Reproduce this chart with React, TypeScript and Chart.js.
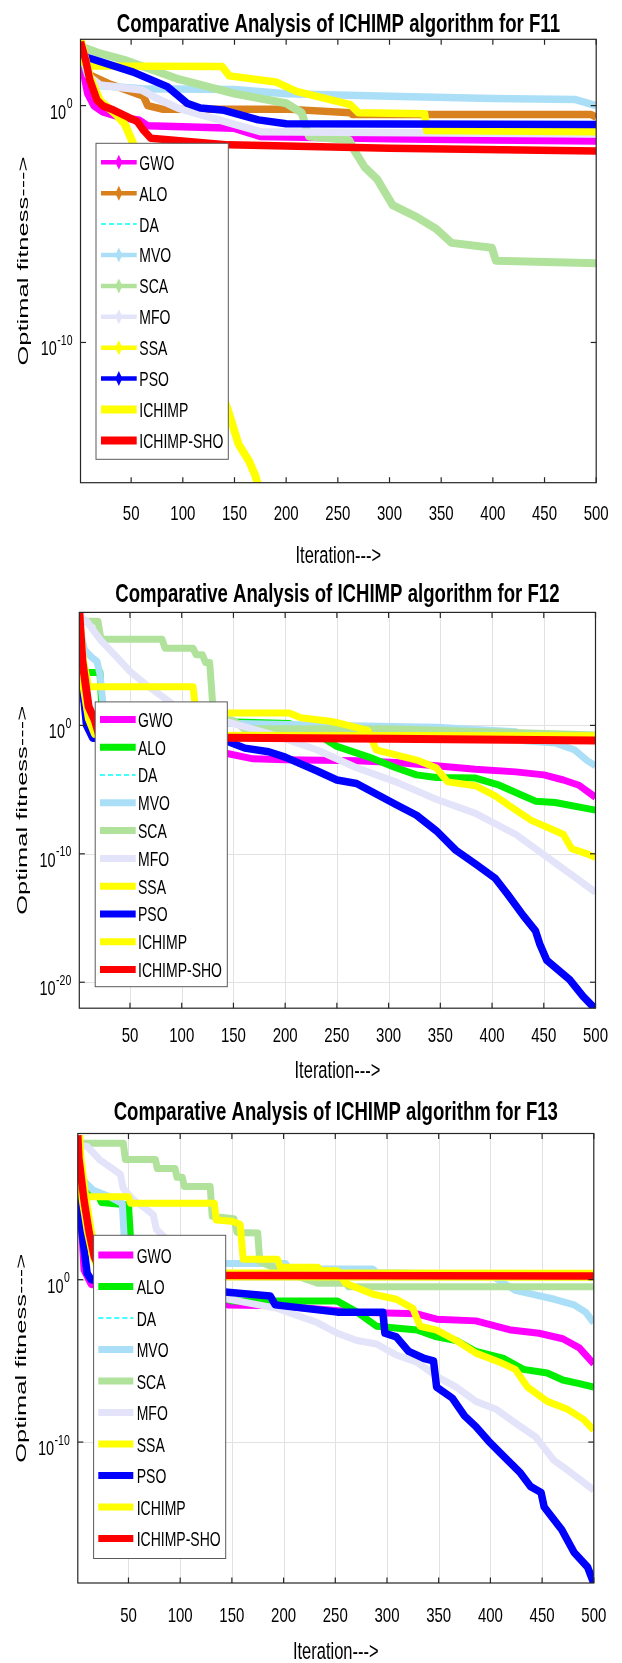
import { useEffect, useRef } from "react";
import { Chart, registerables } from "chart.js";

Chart.register(...registerables);

type Pt = [number, number];

// ---------- shared labels ----------
const ALGORITHMS = ["GWO", "ALO", "DA", "MVO", "SCA", "MFO", "SSA", "PSO", "ICHIMP", "ICHIMP-SHO"];
const ITERATION_TICKS = [50, 100, 150, 200, 250, 300, 350, 400, 450, 500];
const F11_Y_TICKS = [1, 1e-10];
const F12_Y_TICKS = [1, 1e-10, 1e-20];
const F13_Y_TICKS = [1, 1e-10];

// ---------- F11 convergence curves: [iteration, best fitness] ----------
const F11_GWO: Pt[] = [[1, 2.0e2], [4, 2.5e1], [8, 3.2], [14, 1.0], [22, 5.6e-1], [40, 3.2e-1], [58, 2.4e-1], [66, 1.4e-1], [150, 1.1e-1], [175, 5.0e-2], [300, 4.0e-2], [400, 3.5e-2], [500, 3.2e-2]];
const F11_ALO: Pt[] = [[1, 2.0e2], [10, 2.0e1], [30, 7.9], [62, 2.5], [66, 1.0], [80, 7.1e-1], [200, 7.1e-1], [262, 5.0e-1], [264, 4.2e-1], [495, 4.2e-1], [500, 3.2e-1]];
const F11_DA: Pt[] = [];
const F11_MVO: Pt[] = [[1, 2.0e2], [8, 2.0e1], [18, 7.1], [60, 5.2], [150, 4.8], [200, 3.2], [300, 2.5], [400, 2.0], [480, 1.8], [500, 1.0]];
const F11_SCA: Pt[] = [[1, 3.2e2], [20, 1.6e2], [46, 7.9e1], [96, 1.3e1], [150, 3.2], [200, 1.26], [215, 5.0e-1], [222, 5.0e-2], [261, 3.5e-2], [266, 1.26e-2], [276, 2.5e-3], [288, 7.9e-4], [303, 6.3e-5], [326, 2.0e-5], [345, 6.3e-6], [360, 1.6e-6], [399, 1.0e-6], [403, 2.8e-7], [500, 2.2e-7]];
const F11_MFO: Pt[] = [[1, 2.0e2], [10, 1.6e1], [20, 7.4], [60, 4.6], [75, 2.0], [96, 7.6e-1], [150, 1.6e-1], [175, 7.9e-2], [500, 6.3e-2]];
const F11_SSA: Pt[] = [[1, 8.3e1], [10, 4.7e1], [138, 4.5e1], [145, 1.8e1], [190, 1.0e1], [210, 4.0], [262, 1.1], [270, 5.0e-1], [334, 4.5e-1], [336, 8.9e-2], [500, 7.9e-2]];
const F11_PSO: Pt[] = [[1, 2.0e2], [7, 1.1e2], [52, 2.6e1], [85, 6.3], [104, 1.26], [117, 7.9e-1], [140, 6.3e-1], [173, 2.5e-1], [200, 1.7e-1], [500, 1.6e-1]];
const F11_ICHIMP: Pt[] = [[1, 6.3e2], [10, 1.6e1], [20, 1.6], [36, 4.0e-1], [44, 1.6e-1], [52, 2.5e-2], [144, 1.26e-13], [154, 5.0e-15], [164, 1.0e-15], [170, 2.5e-16], [176, 3.2e-17]];
const F11_SHO: Pt[] = [[1, 5.0e2], [6, 8.3e1], [10, 1.2e1], [17, 1.7], [23, 9.5e-1], [33, 6.5e-1], [46, 3.4e-1], [56, 2.1e-1], [62, 9.1e-2], [69, 4.2e-2], [144, 2.2e-2], [300, 1.6e-2], [500, 1.2e-2]];

// ---------- F12 ----------
const F12_GWO: Pt[] = [[1, 1.0e8], [5, 1.0e2], [10, 6.3], [16, 3.2e-1], [144, 6.5e-3], [169, 2.5e-3], [200, 2.1e-3], [269, 1.8e-3], [307, 1.3e-3], [346, 7.1e-4], [384, 3.8e-4], [423, 2.4e-4], [450, 1.4e-4], [469, 5.6e-5], [484, 2.2e-5], [500, 2.5e-6]];
const F12_ALO: Pt[] = [[1, 1.0e8], [2, 1.0e6], [3, 1.3e4], [21, 1.3e4], [23, 1.0e1], [144, 1.9], [204, 1.4], [231, 2.1e-1], [250, 2.3e-2], [281, 3.4e-3], [307, 5.0e-4], [327, 1.4e-4], [346, 8.9e-5], [384, 7.9e-5], [407, 2.2e-5], [430, 3.3e-6], [442, 1.26e-6], [461, 1.0e-6], [500, 2.5e-7]];
const F12_DA: Pt[] = [];
const F12_MVO: Pt[] = [[1, 1.0e8], [3, 1.0e7], [6, 7.9e5], [13, 2.0e5], [18, 1.0e5], [21, 1.0e4], [24, 4.0e1], [144, 1.5], [250, 1.0], [346, 7.1e-1], [423, 3.2e-1], [431, 6.3e-2], [461, 4.3e-2], [480, 1.2e-2], [492, 1.8e-3], [500, 7.1e-4]];
const F12_SCA: Pt[] = [[1, 1.3e8], [19, 1.3e8], [22, 5.0e6], [81, 5.0e6], [84, 1.0e6], [111, 1.0e6], [114, 3.2e5], [120, 3.2e5], [123, 7.9e4], [127, 7.9e4], [130, 4.0e1], [144, 3.5], [152, 2.0], [160, 5.4e-1], [300, 5.4e-1], [500, 1.8e-1]];
const F12_MFO: Pt[] = [[1, 3.2e8], [8, 1.3e8], [22, 4.0e6], [35, 3.2e5], [50, 1.6e4], [65, 1.6e3], [82, 1.6e2], [100, 1.3e1], [144, 1.9], [192, 1.5e-1], [231, 1.2e-2], [269, 5.0e-4], [307, 4.0e-5], [346, 1.8e-6], [384, 1.4e-7], [423, 3.2e-9], [461, 2.0e-11], [484, 8.9e-13], [500, 1.0e-13]];
const F12_SSA: Pt[] = [[1, 6.3e8], [5, 1.0e5], [10, 1.0e3], [111, 1.0e3], [113, 3.2e1], [144, 9.1], [204, 9.1], [215, 4.0], [245, 2.0], [261, 1.0], [280, 4.0e-1], [288, 1.26e-2], [307, 5.0e-3], [327, 2.0e-3], [346, 5.0e-4], [357, 4.0e-5], [384, 2.0e-5], [403, 3.2e-6], [423, 2.5e-7], [438, 4.0e-8], [461, 6.3e-9], [469, 3.2e-9], [477, 2.5e-10], [492, 1.0e-10], [500, 5.0e-11]];
const F12_PSO: Pt[] = [[1, 6.3e8], [3, 1.0e4], [8, 1.0], [14, 1.0e-1], [144, 5.9e-2], [161, 1.7e-2], [184, 8.9e-3], [200, 3.4e-3], [215, 1.0e-3], [231, 2.8e-4], [250, 5.6e-5], [269, 3.0e-5], [288, 4.6e-6], [307, 6.9e-7], [327, 1.0e-7], [346, 6.3e-9], [365, 1.9e-10], [384, 1.6e-11], [403, 1.26e-12], [415, 7.1e-14], [430, 1.6e-15], [442, 1.0e-16], [446, 1.0e-17], [453, 5.0e-19], [475, 1.6e-20], [488, 7.9e-22], [500, 7.9e-23]];
const F12_ICHIMP: Pt[] = [[1, 6.3e8], [5, 1.0e3], [10, 3.2], [16, 2.0e-1], [100, 1.6e-1], [500, 1.5e-1]];
const F12_SHO: Pt[] = [[1, 6.3e8], [4, 1.0e5], [10, 2.9e1], [16, 2.5], [20, 2.0e-1], [144, 1.1e-1], [300, 9.0e-2], [500, 6.6e-2]];

// ---------- F13 ----------
const F13_GWO: Pt[] = [[1, 1.0e8], [4, 1.0e4], [7, 4.0], [14, 5.0e-1], [146, 2.8e-2], [194, 2.5e-2], [271, 1.0e-2], [329, 7.9e-3], [348, 3.7e-3], [386, 2.9e-3], [420, 7.9e-4], [447, 5.0e-4], [470, 2.3e-4], [486, 6.3e-5], [500, 6.5e-6]];
const F13_ALO: Pt[] = [[1, 1.26e7], [2, 2.5e5], [20, 2.0e5], [24, 5.6e4], [50, 4.0e4], [53, 3.2e1], [146, 6.2e-2], [150, 4.8e-2], [252, 4.8e-2], [271, 1.0e-2], [290, 1.35e-3], [329, 7.9e-4], [348, 3.0e-4], [367, 1.8e-4], [386, 3.8e-5], [413, 1.4e-5], [432, 3.0e-6], [455, 1.8e-6], [470, 6.6e-7], [486, 4.0e-7], [500, 2.4e-7]];
const F13_DA: Pt[] = [];
const F13_MVO: Pt[] = [[1, 1.0e7], [8, 1.0e6], [16, 3.2e5], [32, 1.26e5], [44, 5.0e4], [47, 2.0e1], [147, 1.0e1], [202, 1.0e1], [205, 4.6], [286, 4.6], [290, 2.8], [400, 2.0], [424, 2.2e-1], [462, 6.2e-2], [481, 2.8e-2], [492, 1.0e-2], [500, 2.2e-3]];
const F13_SCA: Pt[] = [[1, 2.5e8], [45, 2.5e8], [47, 2.5e7], [76, 2.5e7], [78, 6.9e6], [95, 6.9e6], [97, 2.0e6], [102, 2.0e6], [104, 5.5e5], [129, 5.5e5], [131, 7.9e3], [152, 5.6e3], [155, 7.9e2], [175, 7.4e2], [177, 1.26e1], [200, 3.2], [233, 6.0e-1], [260, 6.0e-1], [263, 3.6e-1], [500, 3.6e-1]];
const F13_MFO: Pt[] = [[1, 2.0e8], [10, 1.6e8], [22, 2.5e7], [42, 3.2e6], [45, 4.0e5], [55, 7.9e4], [66, 2.5e4], [74, 1.0e4], [77, 1.26e3], [146, 6.3e-2], [194, 1.7e-2], [233, 2.2e-3], [252, 5.0e-4], [271, 1.8e-4], [290, 1.1e-4], [309, 2.3e-5], [329, 8.3e-6], [348, 1.1e-6], [367, 2.4e-7], [386, 3.2e-8], [405, 1.1e-8], [424, 1.5e-9], [444, 2.0e-10], [461, 7.9e-12], [474, 2.0e-12], [500, 1.1e-13]];
const F13_SSA: Pt[] = [[1, 2.0e6], [2, 1.26e5], [50, 1.26e5], [52, 5.0e4], [133, 5.0e4], [135, 4.7e3], [150, 4.0e3], [158, 2.6e3], [161, 1.8e1], [194, 1.8e1], [197, 5.9], [233, 5.9], [236, 3.5], [252, 3.5], [260, 6.0e-1], [286, 1.3e-1], [309, 6.2e-2], [325, 1.7e-2], [332, 1.35e-3], [348, 7.9e-4], [367, 1.8e-4], [386, 3.0e-5], [409, 8.3e-6], [424, 3.0e-6], [436, 2.4e-7], [455, 3.2e-8], [474, 1.1e-8], [490, 2.5e-9], [500, 5.4e-10]];
const F13_PSO: Pt[] = [[1, 5.0e5], [5, 1.0e3], [10, 2.5], [14, 1.0], [146, 1.7e-1], [187, 1.0e-1], [192, 2.8e-2], [252, 1.0e-2], [296, 1.0e-2], [298, 5.0e-4], [309, 3.0e-4], [321, 3.8e-5], [336, 1.4e-5], [345, 1.0e-5], [348, 2.4e-7], [363, 5.2e-8], [375, 4.1e-9], [386, 8.9e-10], [398, 1.2e-10], [410, 2.0e-11], [429, 1.26e-12], [439, 1.8e-13], [449, 7.9e-14], [452, 1.0e-14], [469, 4.0e-16], [481, 1.6e-17], [494, 2.0e-18], [500, 2.0e-19]];
const F13_ICHIMP: Pt[] = [[1, 7.9e8], [2, 3.2e7], [7, 1.0e5], [12, 1.0e3], [17, 3.2e1], [25, 2.0], [500, 1.9]];
const F13_SHO: Pt[] = [[1, 7.9e8], [2, 3.2e7], [7, 7.9e4], [12, 7.9e2], [17, 2.5e1], [25, 1.9], [500, 1.7]];

// ---------- styling ----------
const COLORS_F11 = ["#ff00ff", "#d9801f", "#00ffff", "#abdff8", "#b0e29c", "#e3e3fa", "#ffff00", "#0000ff", "#ffff00", "#ff0000"];
const COLORS_F12 = ["#ff00ff", "#00ee00", "#00ffff", "#abdff8", "#b0e29c", "#e3e3fa", "#ffff00", "#0000ff", "#ffff00", "#ff0000"];
const FONT = '"Liberation Sans", Arial, Helvetica, sans-serif';
const AXIS_COLOR = "#262626";

interface LegendBox {
  left: number; right: number; top: number; bottom: number;
  firstY: number; step: number; x0: number; x1: number; textX: number; markers: boolean;
}
interface PanelCfg {
  title: string;
  top: number; height: number;
  area: { left: number; right: number; top: number; bottom: number };
  yMin: number; yMax: number; yTicks: number[];
  grid: boolean;
  titleBase: number; tickBase: number; xlabelBase: number; ylabelX: number;
  legend: LegendBox;
  colors: string[];
  widths: number[];
  series: Pt[][];
}

const PANELS: PanelCfg[] = [
  {
    title: "Comparative Analysis of ICHIMP algorithm for F11",
    top: 0, height: 575,
    area: { left: 80.5, right: 596.2, top: 39.3, bottom: 482.7 },
    yMin: 1.2e-16, yMax: 6.3e2, yTicks: F11_Y_TICKS, grid: false,
    titleBase: 31.7, tickBase: 520, xlabelBase: 563, ylabelX: 28,
    legend: { left: 96, right: 228.3, top: 143.3, bottom: 459.3, firstY: 162.3, step: 30.9, x0: 101, x1: 136.7, textX: 139.3, markers: true },
    colors: COLORS_F11,
    widths: [7.5, 7.5, 1.5, 7.5, 8, 7.5, 7.5, 7.5, 8, 7.5],
    series: [F11_GWO, F11_ALO, F11_DA, F11_MVO, F11_SCA, F11_MFO, F11_SSA, F11_PSO, F11_ICHIMP, F11_SHO],
  },
  {
    title: "Comparative Analysis of ICHIMP algorithm for F12",
    top: 575, height: 515,
    area: { left: 79.3, right: 595.5, top: 37.4, bottom: 433.2 },
    yMin: 9.5e-23, yMax: 6.3e8, yTicks: F12_Y_TICKS, grid: true,
    titleBase: 26.7, tickBase: 466.7, xlabelBase: 503, ylabelX: 27,
    legend: { left: 95.2, right: 227.3, top: 126.9, bottom: 411.7, firstY: 144.4, step: 27.8, x0: 100, x1: 135.7, textX: 138, markers: false },
    colors: COLORS_F12,
    widths: [7, 7, 1.5, 7, 7, 7, 7, 7.5, 7.5, 8],
    series: [F12_GWO, F12_ALO, F12_DA, F12_MVO, F12_SCA, F12_MFO, F12_SSA, F12_PSO, F12_ICHIMP, F12_SHO],
  },
  {
    title: "Comparative Analysis of ICHIMP algorithm for F13",
    top: 1090, height: 573,
    area: { left: 77.8, right: 593.8, top: 43.5, bottom: 493 },
    yMin: 2.1e-19, yMax: 1.0e9, yTicks: F13_Y_TICKS, grid: true,
    titleBase: 29.5, tickBase: 531.7, xlabelBase: 569, ylabelX: 25.5,
    legend: { left: 93.6, right: 225.7, top: 145.3, bottom: 468.5, firstY: 165.1, step: 31.5, x0: 98.3, x1: 133.3, textX: 136.7, markers: false },
    colors: COLORS_F12,
    widths: [7, 7, 1.5, 7, 7, 7, 7, 7.5, 11, 7.5],
    series: [F13_GWO, F13_ALO, F13_DA, F13_MVO, F13_SCA, F13_MFO, F13_SSA, F13_PSO, F13_ICHIMP, F13_SHO],
  },
];

// text drawn with a vertical stretch so the glyphs look like the tall, condensed figure lettering
function stretchedText(
  ctx: CanvasRenderingContext2D, text: string, x: number, y: number,
  size: number, weight: string, align: CanvasTextAlign, sy: number,
) {
  ctx.save();
  ctx.translate(x, y);
  ctx.scale(1, sy);
  ctx.font = `${weight} ${size}px ${FONT}`;
  ctx.textAlign = align;
  ctx.textBaseline = "alphabetic";
  ctx.fillStyle = "#000";
  ctx.fillText(text, 0, 0);
  ctx.restore();
}

function line(ctx: CanvasRenderingContext2D, x0: number, y0: number, x1: number, y1: number) {
  ctx.beginPath();
  ctx.moveTo(x0, y0);
  ctx.lineTo(x1, y1);
  ctx.stroke();
}

function matlabAxes(cfg: PanelCfg) {
  return {
    id: "matlabAxes",
    beforeDatasetsDraw(chart: any) {
      if (!cfg.grid) return;
      const { ctx, chartArea: a, scales } = chart;
      ctx.save();
      ctx.strokeStyle = "#e2e2e2";
      ctx.lineWidth = 1;
      for (const t of ITERATION_TICKS) {
        const x = Math.round(scales.x.getPixelForValue(t)) + 0.5;
        if (x < a.right - 1) line(ctx, x, a.top, x, a.bottom);
      }
      for (const v of cfg.yTicks) {
        const y = Math.round(scales.y.getPixelForValue(v)) + 0.5;
        line(ctx, a.left, y, a.right, y);
      }
      ctx.restore();
    },
    afterDatasetsDraw(chart: any) {
      const { ctx, chartArea: a, scales } = chart;
      ctx.save();

      // axes box and inward ticks
      ctx.strokeStyle = AXIS_COLOR;
      ctx.lineWidth = 1.2;
      ctx.strokeRect(a.left, a.top, a.right - a.left, a.bottom - a.top);
      const tl = 5.5;
      for (const t of ITERATION_TICKS) {
        const x = scales.x.getPixelForValue(t);
        line(ctx, x, a.bottom, x, a.bottom - tl);
        line(ctx, x, a.top, x, a.top + tl);
      }
      for (const v of cfg.yTicks) {
        const y = scales.y.getPixelForValue(v);
        line(ctx, a.left, y, a.left + tl, y);
        line(ctx, a.right, y, a.right - tl, y);
      }

      // x tick labels
      for (const t of ITERATION_TICKS) {
        const x = scales.x.getPixelForValue(t);
        stretchedText(ctx, String(t), x, cfg.tickBase, 15, "normal", "center", 1.4);
      }

      // y tick labels as powers of ten
      for (const v of cfg.yTicks) {
        const y = scales.y.getPixelForValue(v);
        const exp = String(Math.round(Math.log10(v)));
        ctx.font = `normal 14.5px ${FONT}`;
        const wBase = ctx.measureText("10").width;
        ctx.font = `normal 10.5px ${FONT}`;
        const wExp = ctx.measureText(exp).width;
        const xr = a.left - 8;
        stretchedText(ctx, "10", xr - wExp - wBase - 0.5, y + 13, 14.5, "normal", "left", 1.4);
        stretchedText(ctx, exp, xr - wExp, y + 2.5, 10.5, "normal", "left", 1.4);
      }

      // title and axis labels
      const cx = (a.left + a.right) / 2;
      stretchedText(ctx, cfg.title, cx, cfg.titleBase, 18.6, "bold", "center", 1.38);
      stretchedText(ctx, "Iteration--->", cx, cfg.xlabelBase, 16.5, "normal", "center", 1.42);
      ctx.save();
      ctx.translate(cfg.ylabelX, (a.top + a.bottom) / 2);
      ctx.rotate(-Math.PI / 2);
      ctx.scale(1.7, 1);
      ctx.font = `normal 15px ${FONT}`;
      ctx.textAlign = "center";
      ctx.textBaseline = "alphabetic";
      ctx.fillStyle = "#000";
      ctx.fillText("Optimal fitness--->", 0, 0);
      ctx.restore();

      // legend
      const L = cfg.legend;
      ctx.fillStyle = "#fff";
      ctx.fillRect(L.left, L.top, L.right - L.left, L.bottom - L.top);
      ctx.strokeStyle = "#5a5a5a";
      ctx.lineWidth = 1;
      ctx.strokeRect(L.left, L.top, L.right - L.left, L.bottom - L.top);
      chart.data.datasets.forEach((ds: any, i: number) => {
        const y = L.firstY + i * L.step;
        const name = ds.label as string;
        ctx.save();
        ctx.strokeStyle = ds.borderColor;
        if (name === "DA") {
          ctx.lineWidth = 1.5;
          ctx.setLineDash([5, 3]);
        } else if (L.markers) {
          ctx.lineWidth = name.startsWith("ICHIMP") ? 8 : 4.5;
        } else {
          ctx.lineWidth = 7;
        }
        line(ctx, L.x0, y, L.x1, y);
        ctx.setLineDash([]);
        if (L.markers && name !== "DA" && !name.startsWith("ICHIMP")) {
          const mx = (L.x0 + L.x1) / 2;
          ctx.fillStyle = ds.borderColor;
          ctx.beginPath();
          ctx.moveTo(mx, y - 7.5);
          ctx.lineTo(mx + 3.5, y);
          ctx.lineTo(mx, y + 7.5);
          ctx.lineTo(mx - 3.5, y);
          ctx.closePath();
          ctx.fill();
        }
        ctx.restore();
        stretchedText(ctx, name, L.textX, y + 7.4, 14, "normal", "left", 1.5);
      });

      ctx.restore();
    },
  };
}

function ConvergencePanel({ cfg }: { cfg: PanelCfg }) {
  const ref = useRef<HTMLCanvasElement | null>(null);

  useEffect(() => {
    const canvas = ref.current;
    if (!canvas) return;
    const a = cfg.area;
    const chart = new Chart(canvas, {
      type: "line",
      data: {
        datasets: ALGORITHMS.map((name, i) => ({
          label: name,
          data: cfg.series[i].map(([x, y]) => ({ x, y })),
          borderColor: cfg.colors[i],
          backgroundColor: cfg.colors[i],
          borderWidth: cfg.widths[i],
          borderDash: name === "DA" ? [5, 3] : [],
          borderJoinStyle: "round" as const,
          pointRadius: 0,
          fill: false,
          tension: 0,
          order: -i,
        })),
      },
      options: {
        responsive: false,
        animation: false,
        devicePixelRatio: 1,
        events: [],
        layout: {
          padding: { left: a.left, top: a.top, right: 622 - a.right, bottom: cfg.height - a.bottom },
        },
        plugins: {
          legend: { display: false },
          tooltip: { enabled: false },
          title: { display: false },
        },
        scales: {
          x: { type: "linear", min: 1, max: 500, display: false },
          y: { type: "logarithmic", min: cfg.yMin, max: cfg.yMax, display: false },
        },
      },
      plugins: [matlabAxes(cfg)],
    });
    return () => chart.destroy();
  }, [cfg]);

  return (
    <canvas
      ref={ref}
      width={622}
      height={cfg.height}
      style={{ position: "absolute", left: 0, top: cfg.top, display: "block" }}
    />
  );
}

export default function App() {
  return (
    <div style={{ position: "absolute", left: 0, top: 0, width: 622, height: 1663, background: "#fff", overflow: "hidden" }}>
      {PANELS.map((cfg) => (
        <ConvergencePanel key={cfg.title} cfg={cfg} />
      ))}
    </div>
  );
}
